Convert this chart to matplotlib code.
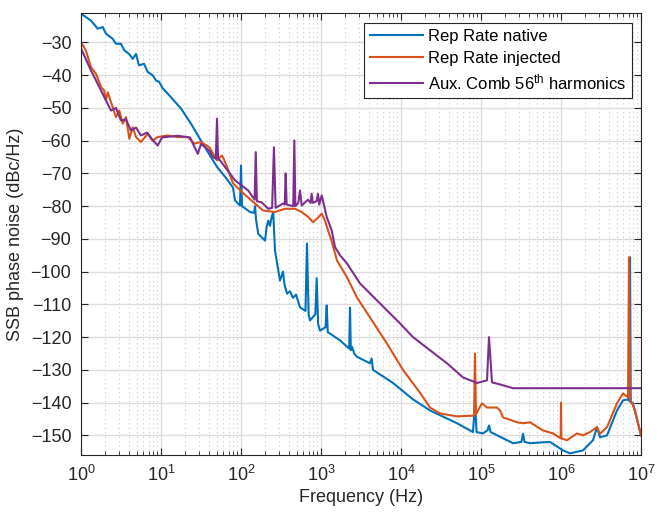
import matplotlib
matplotlib.use("Agg")
import matplotlib.pyplot as plt
from matplotlib.ticker import LogLocator, MultipleLocator, NullFormatter

plt.rcParams["font.family"] = ["Liberation Sans", "DejaVu Sans"]
plt.rcParams["mathtext.fontset"] = "custom"
plt.rcParams["mathtext.rm"] = "Liberation Sans"
plt.rcParams["mathtext.it"] = "Liberation Sans:italic"

# Rep Rate native (blue)
native_f = [1.0, 1.33, 1.62, 1.87, 2.05, 2.49, 2.74, 3.16, 3.48, 3.98, 4.43, 4.87, 5.31, 6.13,
            6.82, 7.87, 8.66, 9.44, 10.5, 13.3, 17.8, 23.7, 31.6, 39.8, 50.1, 63.1, 79.4, 84.1,
            97.2, 100, 103, 130, 146, 150, 154, 157, 164, 181, 200, 209, 219, 230, 242, 253,
            266, 307, 335, 350, 376, 410, 447, 487, 546, 640, 668, 700, 729, 850, 884, 920,
            972, 1140, 1178, 1215, 1296, 1729, 2250, 2305, 2360, 2450, 2600, 2818, 4100,
            4300, 4467, 7943, 14125, 23050, 50119, 79433, 84140, 88000, 105925, 120000,
            126000, 132000, 251189, 320000, 335000, 350000, 409700, 728800, 1.059e6, 1.296e6,
            1.884e6, 2.51e6, 2.82e6, 3.07e6, 3.76e6, 5.01e6, 5.96e6, 6.9e6, 7.15e6, 7.29e6,
            7.45e6, 7.94e6, 1e7]
native_db = [-21.2, -23.3, -25.8, -25.3, -27.3, -28.9, -30.4, -30.4, -32.4, -33.5, -35.0, -33.5,
             -37.0, -36.5, -39.0, -40.0, -41.6, -42.0, -44.0, -46.7, -50.2, -54.8, -60.0,
             -64.0, -68.0, -71.0, -74.3, -78.2, -79.8, -67.6, -80.0, -81.8, -82.0, -80.0,
             -84.0, -85.3, -88.4, -89.5, -90.5, -86.4, -84.4, -86.0, -83.3, -81.8, -93.5,
             -102.7, -100.0, -104.0, -106.7, -106.0, -108.0, -107.0, -110.9, -112.0, -91.4,
             -113.0, -114.9, -113.0, -102.0, -116.0, -118.0, -117.0, -110.3, -118.5, -118.9,
             -121.0, -123.5, -111.0, -124.0, -123.0, -125.0, -126.0, -128.0, -126.5, -130.0,
             -134.0, -139.0, -142.4, -146.3, -149.0, -140.0, -149.0, -149.4, -148.5, -147.0,
             -149.0, -152.4, -152.0, -149.5, -152.0, -152.4, -152.0, -154.6, -155.5, -154.6,
             -151.5, -147.5, -150.6, -150.0, -142.4, -139.3, -139.0, -139.5, -95.6, -140.0,
             -140.2, -150.0]

# Rep Rate injected (orange)
injected_f = [1.0, 1.15, 1.33, 1.54, 1.78, 1.95, 2.05, 2.16, 2.49, 2.74, 3.01, 3.32, 3.65, 4.02,
              4.43, 4.87, 5.62, 6.82, 7.87, 9.09, 12.1, 16.2, 21.6, 26.1, 31.6, 40.2, 50.1,
              58.0, 63.1, 66.8, 79.4, 106, 188, 266, 355, 473, 574, 693, 794, 917, 1021, 1122,
              1223, 1334, 1585, 2113, 2818, 4100, 6683, 10593, 17290, 23050, 30730, 50119,
              79433, 82000, 84140, 86500, 91700, 102900, 118850, 158500, 172900, 188400,
              281800, 335000, 409700, 595700, 794300, 990000, 1.0e6, 1.01e6, 1.03e6, 1.189e6,
              1.585e6, 1.884e6, 2.305e6, 2.82e6, 3.07e6, 3.76e6, 5.01e6, 5.96e6, 6.88e6,
              7.08e6, 7.3e6, 7.72e6, 8.41e6, 1e7]
injected_db = [-29.9, -32.4, -37.5, -39.6, -43.6, -44.7, -47.7, -45.2, -49.8, -52.8, -50.8,
               -54.8, -52.8, -59.4, -55.9, -58.9, -60.4, -57.9, -60.0, -58.9, -58.4, -58.9,
               -58.9, -60.9, -60.4, -62.0, -66.0, -64.5, -66.5, -68.0, -73.0, -76.0, -81.3,
               -81.8, -80.8, -80.8, -81.8, -83.3, -84.9, -83.5, -82.3, -84.4, -87.4, -90.0,
               -96.6, -101.7, -107.9, -114.0, -122.0, -130.0, -137.0, -141.5, -143.3, -144.2,
               -144.0, -144.0, -125.0, -143.5, -142.4, -140.2, -141.5, -141.5, -142.4, -144.5,
               -146.0, -146.3, -146.0, -148.5, -149.4, -150.9, -140.0, -150.9, -151.0, -151.5,
               -149.4, -150.0, -149.0, -147.5, -149.5, -147.5, -140.2, -137.2, -138.4, -95.6,
               -139.0, -140.2, -142.4, -150.0]

# Aux. Comb 56th harmonics (purple)
aux_f = [1.0, 1.33, 1.78, 2.37, 2.74, 3.16, 3.65, 4.22, 4.87, 5.62, 6.7, 7.7, 9.09, 10.3, 16.2,
         23.0, 28.8, 31.6, 40.2, 44.7, 48.5, 50.1, 51.7, 54.6, 84.1, 123, 148, 153, 158, 181,
         219, 245, 258, 271, 335, 352, 362, 372, 450, 464, 478, 520, 546, 574, 688, 740, 765,
         790, 880, 917, 950, 1021, 1178, 1361, 1496, 1729, 2113, 3073, 5464, 9716, 14125,
         23050, 37580, 59570, 89125, 118850, 125900, 137300, 188400, 251200, 1e6, 1e7]
aux_db = [-31.8, -38.5, -44.7, -50.8, -50.0, -53.8, -53.5, -56.9, -56.0, -58.4, -57.5, -59.5,
          -61.5, -59.0, -58.5, -59.0, -64.0, -61.0, -63.0, -65.0, -65.5, -53.3, -65.5, -66.0,
          -72.1, -75.2, -78.0, -63.5, -78.5, -78.8, -80.8, -80.5, -62.0, -80.5, -79.2, -79.5,
          -70.0, -79.5, -80.0, -59.9, -80.0, -79.0, -75.2, -79.8, -78.0, -79.0, -76.2, -79.0,
          -78.5, -76.2, -79.5, -76.7, -83.3, -87.4, -92.5, -95.0, -97.5, -103.6, -109.7,
          -115.8, -120.0, -124.0, -128.0, -132.3, -134.0, -133.2, -120.0, -133.8, -134.7,
          -135.6, -135.6, -135.6]

COLORS = {"native": "#0072BD", "injected": "#D95319", "aux": "#7E2F8E",
          "axis": "#262626", "grid": "#DCDCDC", "minor": "#C8C8C8"}

fig = plt.figure(figsize=(6.58, 5.12), dpi=100)
ax = fig.add_axes([81 / 658, 57 / 512, 560 / 658, 442 / 512])

ax.semilogx(native_f, native_db, color=COLORS["native"], lw=1.5, label="Rep Rate native")
ax.semilogx(injected_f, injected_db, color=COLORS["injected"], lw=1.5, label="Rep Rate injected")
ax.semilogx(aux_f, aux_db, color=COLORS["aux"], lw=1.5,
            label=r"Aux. Comb 56$^{\rm th}$ harmonics")

ax.set_xlim(1, 1e7)
ax.set_ylim(-156, -21)
ax.yaxis.set_major_locator(MultipleLocator(10))
ax.xaxis.set_major_locator(LogLocator(base=10, numticks=10))
ax.xaxis.set_minor_locator(LogLocator(base=10, subs=range(2, 10), numticks=100))
ax.xaxis.set_minor_formatter(NullFormatter())

ax.grid(which="major", color=COLORS["grid"], lw=1.0, ls="-")
ax.grid(which="minor", axis="x", color=COLORS["minor"], lw=0.8, ls=(0, (1, 3)))
ax.set_axisbelow(True)

ax.tick_params(which="both", direction="in", top=True, right=True, colors=COLORS["axis"],
               labelsize=13)
ax.tick_params(which="major", length=5, pad=7)
ax.tick_params(which="minor", length=3)
for sp in ax.spines.values():
    sp.set_color(COLORS["axis"])
    sp.set_linewidth(0.8)

ax.set_xlabel("Frequency (Hz)", fontsize=13, color=COLORS["axis"], labelpad=3)
ax.set_ylabel("SSB phase noise (dBc/Hz)", fontsize=13, color=COLORS["axis"], labelpad=5)

leg = ax.legend(loc="upper right", bbox_to_anchor=(632 / 658, 489 / 512),
                bbox_transform=fig.transFigure, borderaxespad=0, fontsize=12,
                handlelength=3.2, handletextpad=0.3, labelspacing=0.4, borderpad=0.35,
                fancybox=False, framealpha=1, edgecolor=COLORS["axis"])
leg.get_frame().set_linewidth(0.8)

fig.savefig("out.png", dpi=100)
